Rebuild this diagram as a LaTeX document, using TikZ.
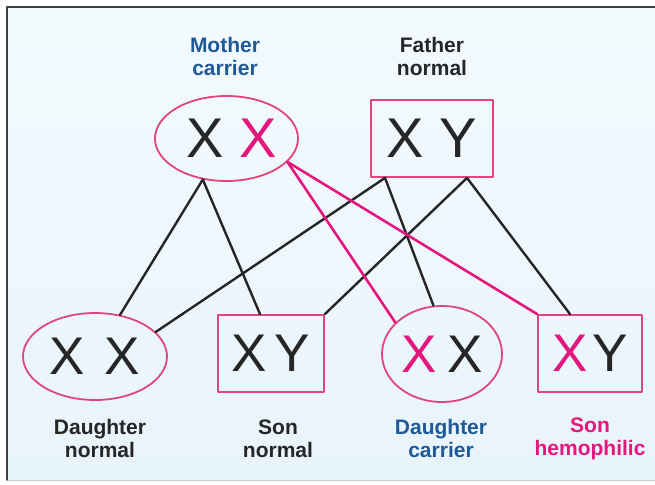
\documentclass[tikz,border=0pt]{standalone}
\usepackage{fontspec}
\setmainfont{Liberation Sans}
\usetikzlibrary{shapes.geometric,arrows.meta}
\definecolor{hemopink}{HTML}{E4177E}
\definecolor{ringpink}{HTML}{E0457F}
\definecolor{carrierblue}{HTML}{1F5A98}
\definecolor{textdark}{HTML}{262626}
\definecolor{bgtop}{HTML}{F3FAFE}
\definecolor{bgbot}{HTML}{E8F4FB}
\begin{document}
\begin{tikzpicture}[x=1pt,y=-1pt,line join=round,line cap=round,
  female/.style={ellipse,draw=ringpink,line width=1.8pt,inner sep=0pt,text=textdark},
  male/.style={rectangle,draw=ringpink,line width=1.8pt,inner sep=0pt,text=textdark},
  parentfont/.style={font=\fontsize{56}{56}\selectfont},
  childfont/.style={font=\fontsize{53}{53}\selectfont},
  caption/.style={align=center,font=\bfseries\fontsize{21}{23}\selectfont,text=textdark},
  gene/.style={line width=2.4pt,textdark},
  hemo/.style={line width=2.6pt,hemopink}]
  \useasboundingbox (0,0) rectangle (655,484);
  \fill[top color=bgtop,bottom color=bgbot] (7,7) rectangle (655,480);
  \draw[gray!40,line width=1pt] (7,480)--(655,480);
  \draw[black!75,line width=1.3pt] (7,480)--(7,7)--(655,7);

  \node[caption,text=carrierblue] (momlabel) at (225,56) {Mother\\carrier};
  \node[caption] (dadlabel) at (432,56) {Father\\normal};
  \node[female,parentfont,minimum width=143pt,minimum height=85pt] (mom) at (226.5,138.5)
    {\hspace{10pt}X \textcolor{hemopink}{X}};
  \node[male,parentfont,minimum width=122pt,minimum height=77pt] (dad) at (432,138.5) {X Y};

  \node[female,childfont,minimum width=144pt,minimum height=87pt] (d1) at (95,356.5)
    {X\hspace{20pt}X};
  \node[male,childfont,minimum width=106pt,minimum height=77pt] (s1) at (271,353.5)
    {X\hspace{8pt}Y};
  \node[female,childfont,minimum width=120pt,minimum height=96pt] (d2) at (442,354)
    {\textcolor{hemopink}{X}\hspace{11pt}X};
  \node[male,childfont,minimum width=104pt,minimum height=77pt] (s2) at (590,353.5)
    {\textcolor{hemopink}{X}\hspace{5pt}Y};

  \node[caption] (d1label) at (100,438.5) {Daughter\\normal};
  \node[caption] (s1label) at (278,438.5) {Son\\normal};
  \node[caption,text=carrierblue] (d2label) at (441,438.5) {Daughter\\carrier};
  \node[caption,text=hemopink] (s2label) at (590,438.5) {Son\\hemophilic};

  \coordinate (momx) at (mom.240);
  \coordinate (momh) at (mom.339);
  \coordinate (dadx) at ([xshift=-47pt]dad.south);
  \coordinate (dady) at ([xshift=35pt]dad.south);

  \draw[gene] (momx) -- (d1.59);
  \draw[gene] (momx) -- ([xshift=-11pt]s1.north);
  \draw[gene] (dadx) -- (d1.22);
  \draw[gene] (dadx) -- (d2.100);
  \draw[gene] (dady) -- (s1.north east);
  \draw[gene] (dady) -- ([xshift=-20pt]s2.north);
  \draw[hemo] (momh) -- (d2.146);
  \draw[hemo] (momh) -- (s2.north west);
\end{tikzpicture}
\end{document}
